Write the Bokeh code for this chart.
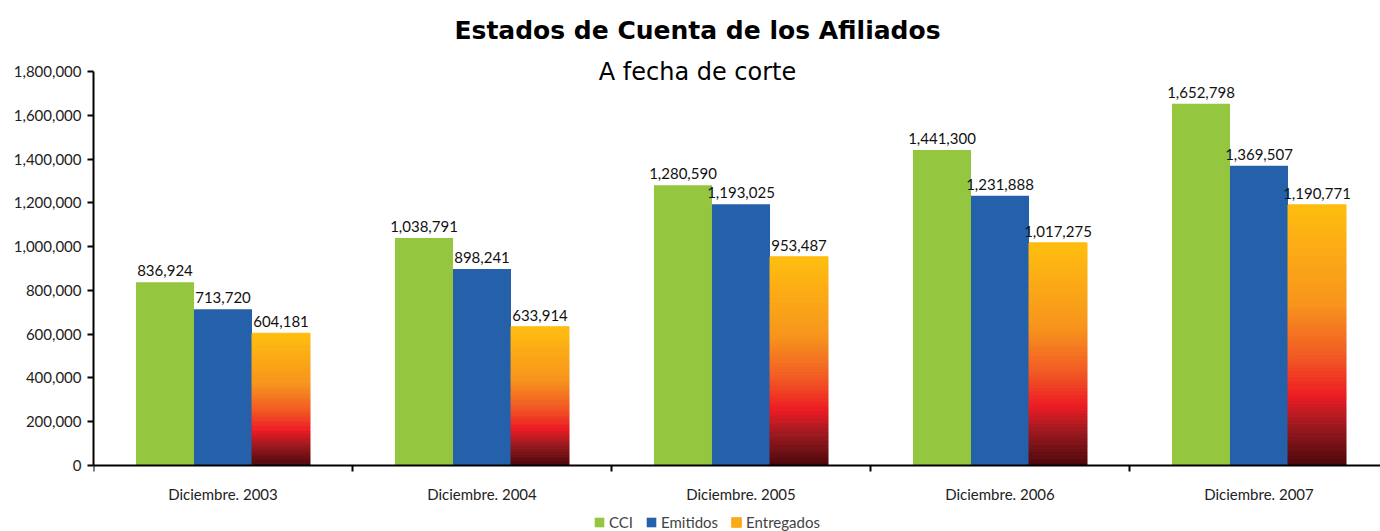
from bokeh.plotting import figure
from bokeh.models import (Range1d, FixedTicker, NumeralTickFormatter, ColumnDataSource,
                          LabelSet, Label, Legend, LegendItem)
from bokeh.core.properties import value
from bokeh.embed import file_html
from bokeh.resources import INLINE

categories = ["Diciembre. 2003", "Diciembre. 2004", "Diciembre. 2005", "Diciembre. 2006", "Diciembre. 2007"]
cci = [836924, 1038791, 1280590, 1441300, 1652798]
emitidos = [713720, 898241, 1193025, 1231888, 1369507]
entregados = [604181, 633914, 953487, 1017275, 1190771]
y_ticks = [0, 200000, 400000, 600000, 800000, 1000000, 1200000, 1400000, 1600000, 1800000]

GREEN = "#94C63F"
BLUE = "#2560AA"
grad_stops = [(0.0, "#4A080B"), (0.15, "#9A1A20"), (0.27, "#ED1C24"), (0.42, "#F15A24"),
              (0.62, "#F7941D"), (1.0, "#FFBE10")]

def hex2rgb(h):
    h = h.lstrip("#")
    return tuple(int(h[i:i + 2], 16) for i in (0, 2, 4))

def grad_color(f):
    for (f0, c0), (f1, c1) in zip(grad_stops[:-1], grad_stops[1:]):
        if f0 <= f <= f1:
            t = (f - f0) / (f1 - f0)
            a, b = hex2rgb(c0), hex2rgb(c1)
            return "#%02x%02x%02x" % tuple(int(round(a[i] + (b[i] - a[i]) * t)) for i in range(3))
    return grad_stops[-1][1]

W, H = 1380, 531
LEFT = 93
Y0_PX, YMAX_PX = 465, 71          # canvas rows of 0 and of 1,800,000
group_px = 259.0
frame_w = W - LEFT
ymax = 1800000
ypx = ymax / (Y0_PX - YMAX_PX)
y_start = -(H - Y0_PX) * ypx
y_end = ymax + YMAX_PX * ypx
centers = [i + 0.5 for i in range(len(categories))]
bw = 0.224

p = figure(width=W, height=H, output_backend="svg", toolbar_location=None,
           x_range=Range1d(0, frame_w / group_px), y_range=Range1d(y_start, y_end),
           min_border_left=LEFT, min_border_right=0, min_border_top=0, min_border_bottom=0)
p.outline_line_color = None
p.xgrid.grid_line_color = None
p.ygrid.grid_line_color = None

FONT = "Lato"
FS = "15px"

src_c = ColumnDataSource(dict(x=[c - bw for c in centers], top=cci,
                              lab=["{:,}".format(v) for v in cci]))
src_e = ColumnDataSource(dict(x=centers, top=emitidos,
                              lab=["{:,}".format(v) for v in emitidos]))
src_t = ColumnDataSource(dict(x=[c + bw for c in centers], top=entregados,
                              lab=["{:,}".format(v) for v in entregados]))

r_c = p.vbar(x="x", top="top", width=bw, source=src_c, fill_color=GREEN, line_color=None)
r_e = p.vbar(x="x", top="top", width=bw, source=src_e, fill_color=BLUE, line_color=None)

# gradient bars built from slices of each value
N = 80
gx, gb, gt, gc = [], [], [], []
for c, v in zip(centers, entregados):
    for i in range(N):
        gx.append(c + bw)
        gb.append(v * i / N)
        gt.append(v * (i + 1) / N)
        gc.append(grad_color((i + 0.5) / N))
r_t = p.vbar(x=gx, bottom=gb, top=gt, width=bw, fill_color=gc, line_color=gc, line_width=1)

for s in (src_c, src_e, src_t):
    p.add_layout(LabelSet(x="x", y="top", text="lab", source=s, text_align="center",
                          text_baseline="bottom", y_offset=6, text_font=value(FONT),
                          text_font_size=value(FS), text_color="#111111"))

# y axis
ya = p.yaxis[0]
ya.ticker = FixedTicker(ticks=y_ticks, minor_ticks=[])
ya.bounds = (0, ymax)
ya.formatter = NumeralTickFormatter(format="0,0")
ya.axis_line_width = 2
ya.axis_line_color = "black"
ya.major_tick_out = 6
ya.major_tick_in = 0
ya.major_tick_line_width = 2
ya.minor_tick_line_color = None
ya.major_label_text_font = FONT
ya.major_label_text_font_size = FS
ya.major_label_text_color = "#222222"
ya.major_label_standoff = 6

# x axis, drawn at value 0
xa = p.xaxis[0]
xa.fixed_location = 0
xa.ticker = FixedTicker(ticks=centers, minor_ticks=[0, 1, 2, 3, 4, 5])
xa.major_label_overrides = {c: lab for c, lab in zip(centers, categories)}
xa.axis_line_width = 2
xa.axis_line_color = "black"
xa.major_tick_out = 0
xa.major_tick_in = 0
xa.major_tick_line_color = None
xa.minor_tick_out = 6
xa.minor_tick_in = 0
xa.minor_tick_line_width = 2
xa.minor_tick_line_color = "black"
xa.major_label_text_font = FONT
xa.major_label_text_font_size = FS
xa.major_label_text_color = "#222222"
xa.major_label_standoff = 13

# titles (placed in data space above the 1,800,000 line)
xc = (697 - LEFT) / group_px
p.add_layout(Label(x=xc, y=ymax + (YMAX_PX - 30) * ypx, text="Estados de Cuenta de los Afiliados",
                   text_align="center", text_baseline="middle", text_font="DejaVu Sans",
                   text_font_style="bold", text_font_size="25px", text_color="black"))
p.add_layout(Label(x=xc, y=ymax, text="A fecha de corte",
                   text_align="center", text_baseline="middle", text_font="DejaVu Sans",
                   text_font_size="24px", text_color="black"))

idx = int(N * 0.8)
legend = Legend(items=[LegendItem(label="CCI", renderers=[r_c]),
                       LegendItem(label="Emitidos", renderers=[r_e]),
                       LegendItem(label="Entregados", renderers=[r_t], index=idx)],
                orientation="horizontal", label_text_font=FONT, label_text_font_size=FS,
                glyph_width=12, glyph_height=12, spacing=12, label_standoff=4,
                border_line_color=None, background_fill_alpha=0, padding=0, margin=0,
                label_height=14, location=(500, 0))
p.add_layout(legend, "center")

open("out.html", "w").write(file_html(p, INLINE))
